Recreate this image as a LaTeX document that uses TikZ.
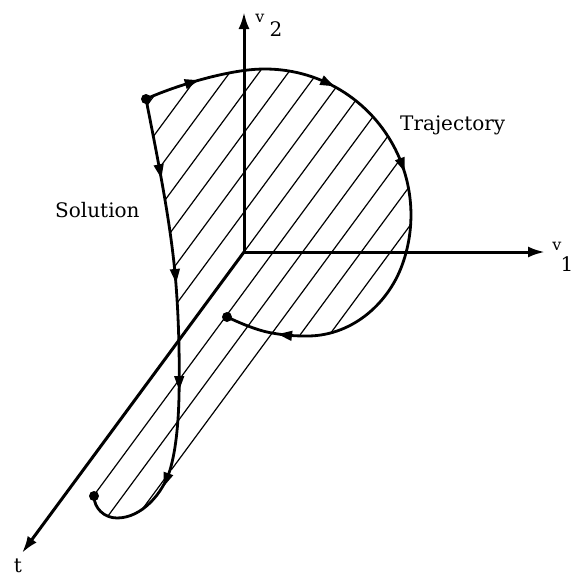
\documentclass[tikz,border=0pt]{standalone}
\usepackage{fontspec}
\setmainfont{DejaVu Serif}
\usetikzlibrary{arrows.meta}
\begin{document}
\begin{tikzpicture}[x=1pt,y=-1pt,
  curve/.style={line width=2.8pt, line join=round, line cap=round},
  axis/.style={line width=3pt, -{Latex[length=17pt,width=11pt]}},
  hatch/.style={line width=1.2pt},
  dot/.style={circle, fill=black, inner sep=0pt, minimum size=10pt},
  lbl/.style={font=\fontsize{20}{24}\selectfont, inner sep=0pt},
  lblv/.style={font=\fontsize{16}{18}\selectfont, inner sep=0pt},
  lbln/.style={font=\fontsize{20}{22}\selectfont, inner sep=0pt},
  arrowhd/.pic={\fill (7,0) -- (-7,5.2) -- (-7,-5.2) -- cycle;}]
\useasboundingbox (0,0) rectangle (574,579);

% coordinates
\coordinate (O) at (244,252);
\coordinate (v2tip) at (244,12);
\coordinate (v1tip) at (545,252);
\coordinate (ttip) at (22,553);
\coordinate (A) at (146,99);
\coordinate (B) at (227,317);
\coordinate (C) at (94,496);

% hatching
\begin{scope}
\clip (A) .. controls (170,88) and (214.9,73.5) .. (249.7,69.8)
 .. controls (307.1,63.8) and (362.5,92) .. (391.4,142)
 .. controls (413,179.3) and (416.9,224.4) .. (402.2,264.9)
 .. controls (387.5,305.3) and (350,337) .. (305,336)
 .. controls (292,336) and (282,334.8) .. (272,333)
 -- (274,333) -- (173,470) -- (170,470)
 .. controls (163,493) and (142,518) .. (117,518)
 .. controls (104,518) and (94,508) .. (C)
 -- (92,496) -- (177.5,380) -- (179.2,380)
 .. controls (179.5,345) and (178,305) .. (175,273)
 .. controls (170,220) and (158,160) .. (A) -- cycle;
\foreach \k in {-12,...,12}
  \draw[hatch] ({244+29.3*\k+221.1},-48) -- ({244+29.3*\k-258},602);
\end{scope}

% axes
\draw[axis] (O) -- (v2tip);
\draw[axis] (O) -- (v1tip);
\draw[axis] (O) -- (ttip);

% trajectory
\draw[curve] (A) .. controls (170,88) and (214.9,73.5) .. (249.7,69.8)
 .. controls (307.1,63.8) and (362.5,92) .. (391.4,142)
 .. controls (413,179.3) and (416.9,224.4) .. (402.2,264.9)
 .. controls (387.5,305.3) and (350,337) .. (305,336)
 .. controls (292,336) and (282,334.8) .. (272,333)
 .. controls (257,330.5) and (240,323) .. (B);

% solution
\draw[curve] (A) .. controls (158,160) and (170,220) .. (175,273)
 .. controls (178,305) and (179.5,345) .. (179.2,380)
 .. controls (179.2,420) and (176,450) .. (170,470)
 .. controls (163,493) and (142,518) .. (117,518)
 .. controls (104,518) and (94,508) .. (C);

% direction arrows
\pic[rotate=16] at (192,82.2) {arrowhd};
\pic[rotate=-25.5] at (327.9,83.2) {arrowhd};
\pic[rotate=-70] at (402.2,165.1) {arrowhd};
\pic[rotate=173] at (285,335) {arrowhd};
\pic[rotate=-79] at (160,171.4) {arrowhd};
\pic[rotate=-85] at (175.5,276) {arrowhd};
\pic[rotate=-90] at (179.2,383) {arrowhd};
\pic[rotate=-110] at (166,480) {arrowhd};

% end dots
\node[dot] (dA) at (A) {};
\node[dot] (dB) at (B) {};
\node[dot] (dC) at (C) {};

% labels
\node[lblv] (lv2) at (260,18) {v};
\node[lbln] (l2) at (276,29) {2};
\node[lblv] (lv1) at (557,246) {v};
\node[lbln] (l1) at (567,264) {1};
\node[lbl] (lt) at (18,566) {t};
\node[lbl, anchor=base west] (sol) at (55,217) {Solution};
\node[lbl, anchor=base west] (traj) at (400,130) {Trajectory};
\end{tikzpicture}
\end{document}
